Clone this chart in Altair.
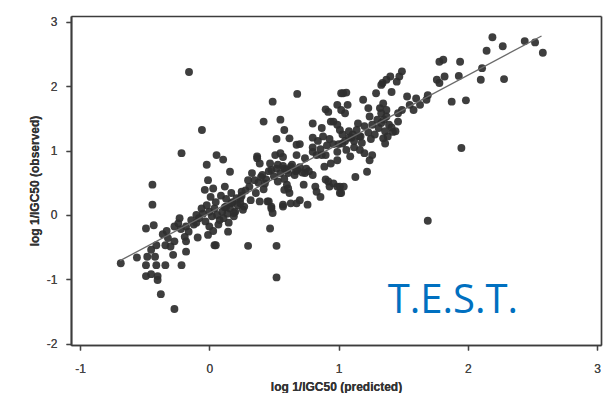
import altair as alt
import pandas as pd

# ---- data: (predicted, observed) ----
lower_left = [
    (-0.685, -0.75), (-0.56, -0.66), (-0.49, -0.78), (-0.41, -0.78), (-0.34, -0.78),
    (-0.215, -0.78), (-0.49, -0.95), (-0.45, -0.92), (-0.40, -0.95), (-0.40, -1.01),
    (-0.375, -1.23), (-0.27, -1.46), (-0.41, -0.47), (-0.45, -0.54), (-0.42, -0.65),
    (-0.48, -0.65), (-0.28, -0.62), (-0.18, -0.57), (-0.32, -0.36), (-0.27, -0.41),
    (-0.34, -0.47), (-0.30, -0.49), (-0.49, -0.21), (-0.43, -0.16), (-0.44, 0.16),
    (-0.44, 0.47), (-0.215, 0.96), (-0.157, 2.22), (-0.057, 1.32), (-0.23, -0.05),
    (-0.24, -0.13), (-0.27, -0.18), (-0.18, -0.18), (-0.16, -0.26), (-0.19, -0.34),
    (-0.18, -0.41), (-0.09, -0.35), (-0.01, -0.31), (0.04, -0.47), (-0.02, 0.78),
    (0.056, 0.93), (0.107, 0.86), (0.16, 0.67), (-0.01, 0.54), (-0.035, 0.39),
    (0.03, 0.41), (-0.36, -0.30), (-0.33, -0.25), (-0.22, -0.22), (-0.12, -0.15),
    (-0.14, -0.08), (-0.10, 0.00),
]

zero_cluster = [
    (-0.08, -0.05), (-0.05, 0.02), (-0.03, -0.10), (0.00, 0.05), (0.02, -0.02),
    (0.04, 0.10), (0.06, 0.00), (0.08, -0.08), (0.10, 0.05), (0.12, 0.12),
    (0.05, 0.20), (-0.02, 0.15), (0.00, -0.18), (0.03, -0.25), (0.07, -0.15),
    (0.11, -0.05), (0.14, 0.02), (0.16, 0.10), (0.18, 0.20), (0.20, 0.05),
    (0.22, 0.15), (0.13, 0.25), (0.09, 0.30), (-0.06, 0.10), (-0.10, -0.12),
    (0.01, 0.28), (0.15, -0.12), (0.19, -0.02), (0.24, 0.25), (0.26, 0.08),
    (0.12, 0.44), (0.17, 0.34), (0.21, 0.26), (0.25, 0.36), (0.24, 0.18),
    (0.17, 0.18), (0.13, 0.13), (0.19, 0.03), (0.27, 0.13), (0.145, -0.26),
    (0.31, 0.44), (0.36, 0.34), (0.32, 0.23), (0.39, 0.21), (0.45, 0.21),
    (0.48, 0.10), (0.49, 0.03), (0.57, 0.16),
]

mid_band = [
    (0.37, 0.88), (0.39, 0.80), (0.51, 0.93), (0.55, 0.96), (0.57, 0.90),
    (0.675, 0.93), (0.74, 0.88), (0.80, 0.98), (0.87, 0.93), (0.47, 0.80),
    (0.53, 0.78), (0.48, 0.70), (0.33, 0.65), (0.30, 0.54), (0.35, 0.54),
    (0.40, 0.59), (0.43, 0.49), (0.58, 0.72), (0.63, 0.75), (0.68, 0.70),
    (0.74, 0.65), (0.66, 0.62), (0.61, 0.65), (0.80, 0.62), (0.89, 0.75),
    (0.94, 0.80), (0.99, 0.85), (0.61, 0.41), (0.62, 0.34), (0.675, 0.18),
    (0.70, 0.23), (0.76, 0.16), (0.73, 0.47), (0.82, 0.44), (0.83, 0.36),
    (0.86, 0.28), (0.92, 0.52), (0.96, 0.49), (0.99, 0.44), (1.01, 0.34),
    (0.47, -0.21), (0.30, -0.48), (0.52, -0.48), (0.52, -0.97), (0.05, -0.47),
    (0.57, 0.13), (0.48, 0.13), (0.46, 0.21), (0.58, 0.39), (0.60, 0.47),
    (0.63, 0.18), (0.90, 0.55), (0.93, 0.44), (1.04, 0.44), (0.52, 0.72),
    (0.55, 0.65), (0.57, 0.76), (0.60, 0.70), (0.64, 0.78), (0.67, 0.68),
    (0.70, 0.74), (0.72, 0.66), (0.75, 0.72), (0.77, 0.68), (0.46, 0.68),
    (0.50, 0.60), (0.41, 0.62), (0.44, 0.55), (0.38, 0.50), (0.28, 0.38),
    (0.25, 0.30), (0.42, 0.40), (0.53, 0.52), (0.58, 0.56),
]

upper_mid = [
    (0.68, 1.88), (0.49, 1.76), (0.42, 1.45), (0.55, 1.48), (0.58, 1.32),
    (0.62, 1.19), (0.52, 1.18), (0.675, 1.09), (0.80, 1.42), (0.87, 1.35),
    (0.94, 1.45), (0.92, 1.60), (0.99, 1.71), (1.02, 1.89), (0.37, 0.91),
    (0.80, 1.20), (0.84, 1.15), (0.88, 1.22), (0.93, 1.18), (0.80, 1.05),
    (0.86, 1.02), (0.91, 1.08), (0.96, 1.10), (0.99, 0.98), (0.90, 0.93),
    (0.83, 0.93), (0.96, 1.45), (0.99, 1.40), (0.70, 1.10), (0.90, 1.64),
    (1.00, 1.10), (1.03, 1.25), (1.05, 1.15), (1.08, 1.30), (1.10, 1.20),
    (1.12, 1.05), (1.16, 1.22),
]

upper = [
    (1.78, 2.38), (1.81, 2.41), (1.94, 2.38), (1.93, 2.16), (1.76, 2.10),
    (1.78, 2.05), (1.82, 2.15), (1.875, 1.76), (1.985, 1.78), (1.95, 1.04),
    (1.49, 2.23), (1.47, 2.15), (1.45, 2.07), (1.40, 2.15), (1.37, 2.10),
    (1.34, 2.05), (1.33, 2.02), (1.035, 1.89), (1.06, 1.90), (1.29, 1.89),
    (1.41, 1.91), (1.19, 1.79), (1.53, 1.84), (1.60, 1.81), (1.69, 1.86),
    (1.68, 1.79), (1.63, 1.71), (1.55, 1.71), (1.58, 1.63), (1.49, 1.63),
    (1.46, 1.58), (1.345, 1.73), (1.32, 1.66), (1.33, 1.58), (1.37, 1.63),
    (1.37, 1.53), (1.23, 1.66), (1.24, 1.53), (1.07, 1.71), (1.05, 1.58),
    (1.02, 1.63), (1.42, 1.29), (1.345, 1.19), (1.36, 1.11), (1.01, 1.32),
    (1.03, 1.11), (1.06, 1.01), (1.09, 0.91), (1.165, 1.01), (1.20, 0.96),
    (1.24, 0.85), (1.26, 0.93), (1.22, 0.67), (1.13, 0.59), (1.01, 0.44),
    (1.02, 0.34), (1.44, 1.30), (1.46, 1.45),
]

dense_upper = [
    (1.11, 1.25), (1.14, 1.32), (1.17, 1.22), (1.20, 1.38), (1.23, 1.28),
    (1.26, 1.40), (1.28, 1.25), (1.31, 1.35), (1.33, 1.43), (1.36, 1.30),
    (1.39, 1.40), (1.41, 1.36), (1.12, 1.15), (1.18, 1.12), (1.15, 1.42),
    (1.08, 1.20), (1.25, 1.18), (1.30, 1.48), (1.35, 1.48), (1.38, 1.22),
]

top_right = [
    (2.19, 2.76), (2.27, 2.62), (2.145, 2.55), (2.44, 2.70), (2.52, 2.68),
    (2.58, 2.52), (2.11, 2.28), (2.10, 2.10), (2.28, 2.11), (1.69, -0.09),
]

line_pred = [-0.69, 2.57]
line_obs = [-0.71, 2.78]

label_text = ["T.E.S.T."]
label_pred = [1.38]
label_obs = [-1.52]

x_ticks = [-1, 0, 1, 2, 3]
y_ticks = [-2, -1, 0, 1, 2, 3]

# ---- build ----
W, H = 530, 329
FRAME = "#3c3c3c"
points = lower_left + zero_cluster + mid_band + upper_mid + upper + dense_upper + top_right
df = pd.DataFrame(points, columns=["pred", "obs"])
df_line = pd.DataFrame({"pred": line_pred, "obs": line_obs})
df_text = pd.DataFrame({"pred": label_pred, "obs": label_obs, "t": label_text})

x_scale = alt.Scale(domain=[-1.07, 3.03], nice=False, zero=False)
y_scale = alt.Scale(domain=[-2.02, 3.09], nice=False, zero=False)

hyphen = "datum.value < 0 ? '-' + abs(datum.value) : '' + datum.value"

x_enc = alt.X("pred:Q", scale=x_scale, axis=alt.Axis(
    values=x_ticks, title="log 1/IGC50 (predicted)", grid=False,
    domain=True, domainColor=FRAME, domainWidth=1.7,
    tickSize=5, tickColor="#444", tickWidth=1.3, labelPadding=13, titlePadding=7,
    labelExpr=hyphen,
    labelFont="Liberation Sans", labelFontSize=12, labelColor="#444",
    titleFont="Liberation Sans", titleFontSize=12, titleFontWeight="bold", titleColor="#333"))
y_enc = alt.Y("obs:Q", scale=y_scale, axis=alt.Axis(
    values=y_ticks, title="log 1/IGC50 (observed)", grid=False,
    domain=True, domainColor=FRAME, domainWidth=1.7,
    tickSize=5, tickColor="#444", tickWidth=1.3, labelPadding=9, titlePadding=5,
    labelExpr=hyphen,
    labelFont="Liberation Sans", labelFontSize=12, labelColor="#444",
    titleFont="Liberation Sans", titleFontSize=12, titleFontWeight="bold", titleColor="#333"))

x_top = alt.X("pred:Q", scale=x_scale, axis=alt.Axis(
    orient="top", title=None, labels=False, ticks=False, grid=False,
    domain=True, domainColor=FRAME, domainWidth=1.7))
y_right = alt.Y("obs:Q", scale=y_scale, axis=alt.Axis(
    orient="right", title=None, labels=False, ticks=False, grid=False,
    domain=True, domainColor=FRAME, domainWidth=1.7))

pts = alt.Chart(df).mark_circle(size=62, color="#2e2e2e", opacity=0.92).encode(x=x_enc, y=y_enc)
line = alt.Chart(df_line).mark_line(color="#6a6a6a", strokeWidth=1.3).encode(x=x_top, y=y_right)
txt = alt.Chart(df_text).mark_text(
    align="left", baseline="alphabetic", font="Open Sans", fontSize=40, color="#0070C0"
).encode(x=x_enc, y=y_enc, text="t:N")

chart = alt.layer(pts, line, txt).resolve_axis(x="independent", y="independent").properties(
    width=W, height=H,
    background="white",
    autosize=alt.AutoSizeParams(type="none"),
    padding={"left": 63, "top": 8, "right": 2, "bottom": 48},
).configure_view(strokeWidth=0)

chart.save("out.html", embed_options={"renderer": "svg", "actions": False})
